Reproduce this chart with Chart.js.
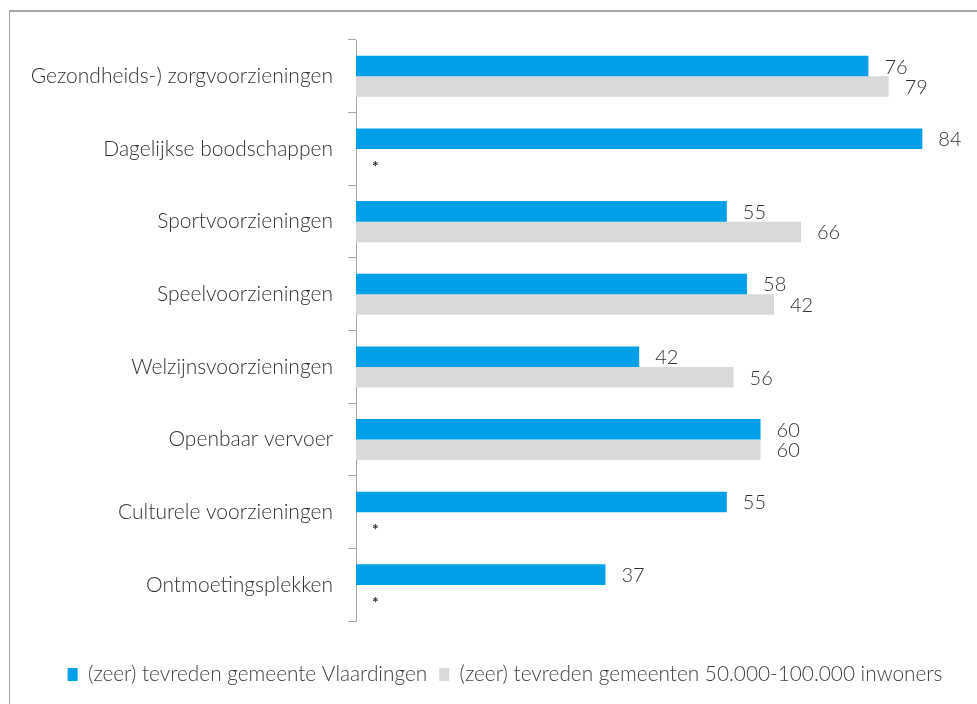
<!DOCTYPE html>
<html>
<head>
    <title>Tevredenheid voorzieningen</title>
    <script src="https://cdn.jsdelivr.net/npm/chart.js"></script>
    <style>
        html, body {
            margin: 0;
            padding: 0;
            background-color: #ffffff;
            overflow: hidden;
        }
        .frame {
            position: absolute;
            left: 9px;
            top: 10px;
            width: 1100px;
            height: 800px;
            border-left: 1px solid #a6a6a6;
            border-top: 2px solid #a6a6a6;
        }
        .chart-container {
            position: absolute;
            left: 0;
            top: 0;
            width: 1010px;
            height: 704px;
        }
    </style>
</head>
<body>
    <div class="frame"></div>
    <div class="chart-container">
        <canvas id="barChart"></canvas>
    </div>

    <script>
        const categories = [
            'Gezondheids-) zorgvoorzieningen',
            'Dagelijkse boodschappen',
            'Sportvoorzieningen',
            'Speelvoorzieningen',
            'Welzijnsvoorzieningen',
            'Openbaar vervoer',
            'Culturele voorzieningen',
            'Ontmoetingsplekken'
        ];
        const vlaardingen = [76, 84, 55, 58, 42, 60, 55, 37];
        // null = geen vergelijkingscijfer (getoond als *)
        const gemeenten = [79, null, 66, 62, 56, 60, null, null];
        // labels zoals ze in de bron staan (speelvoorzieningen: balk ~62, label 42)
        const gemeentenLabels = ['79', null, '66', '42', '56', '60', null, null];

        const seriesNames = [
            '(zeer) tevreden gemeente Vlaardingen',
            '(zeer) tevreden gemeenten 50.000-100.000 inwoners'
        ];

        const fontFamily = "Lato, 'Noto Sans', sans-serif";

        // waarden naast de balken en * bij ontbrekende cijfers
        const valueLabels = {
            id: 'valueLabels',
            afterDatasetsDraw(chart) {
                const ctx = chart.ctx;
                const xScale = chart.scales.x;
                ctx.save();
                ctx.fillStyle = '#333333';
                ctx.textAlign = 'left';
                chart.data.datasets.forEach((ds, di) => {
                    const meta = chart.getDatasetMeta(di);
                    meta.data.forEach((bar, i) => {
                        const v = ds.data[i];
                        if (v === null) {
                            const ref = chart.getDatasetMeta(0).data[i];
                            ctx.font = "bold 16px " + fontFamily;
                            ctx.textBaseline = 'alphabetic';
                            ctx.fillText('*', xScale.getPixelForValue(0) + 16, ref.y + ref.height / 2 + 23);
                            return;
                        }
                        const txt = di === 1 ? gemeentenLabels[i] : String(v);
                        ctx.font = "300 20px " + fontFamily;
                        ctx.textBaseline = 'middle';
                        ctx.fillText(txt, bar.x + 16, bar.y + 1);
                    });
                });
                ctx.restore();
            }
        };

        const ctx = document.getElementById('barChart').getContext('2d');

        new Chart(ctx, {
            type: 'bar',
            data: {
                labels: categories,
                datasets: [
                    {
                        label: seriesNames[0],
                        data: vlaardingen,
                        backgroundColor: '#00a0e9',
                        categoryPercentage: 0.565,
                        barPercentage: 1.0
                    },
                    {
                        label: seriesNames[1],
                        data: gemeenten,
                        backgroundColor: '#d9d9d9',
                        categoryPercentage: 0.565,
                        barPercentage: 1.0
                    }
                ]
            },
            options: {
                indexAxis: 'y',
                responsive: true,
                maintainAspectRatio: false,
                animation: false,
                layout: {
                    padding: { top: 40, right: 0, bottom: 9, left: 0 }
                },
                plugins: {
                    legend: {
                        position: 'bottom',
                        labels: {
                            boxWidth: 10,
                            boxHeight: 13,
                            padding: 12,
                            color: '#404040',
                            font: { size: 20.8, weight: 300, family: fontFamily }
                        }
                    },
                    tooltip: { enabled: false }
                },
                scales: {
                    x: {
                        display: true,
                        min: 0,
                        max: 97,
                        afterFit(scale) {
                            scale.height = 31;
                        },
                        grid: { display: false },
                        border: { display: false },
                        ticks: { display: false }
                    },
                    y: {
                        afterFit(scale) {
                            scale.width = 356;
                        },
                        border: {
                            display: true,
                            color: '#a6a6a6',
                            width: 1
                        },
                        grid: {
                            drawOnChartArea: false,
                            drawTicks: true,
                            tickLength: 8,
                            color: '#a6a6a6'
                        },
                        ticks: {
                            padding: 15,
                            color: '#333333',
                            font: { size: 21, weight: 300, family: fontFamily }
                        }
                    }
                }
            },
            plugins: [valueLabels]
        });
    </script>
</body>
</html>
